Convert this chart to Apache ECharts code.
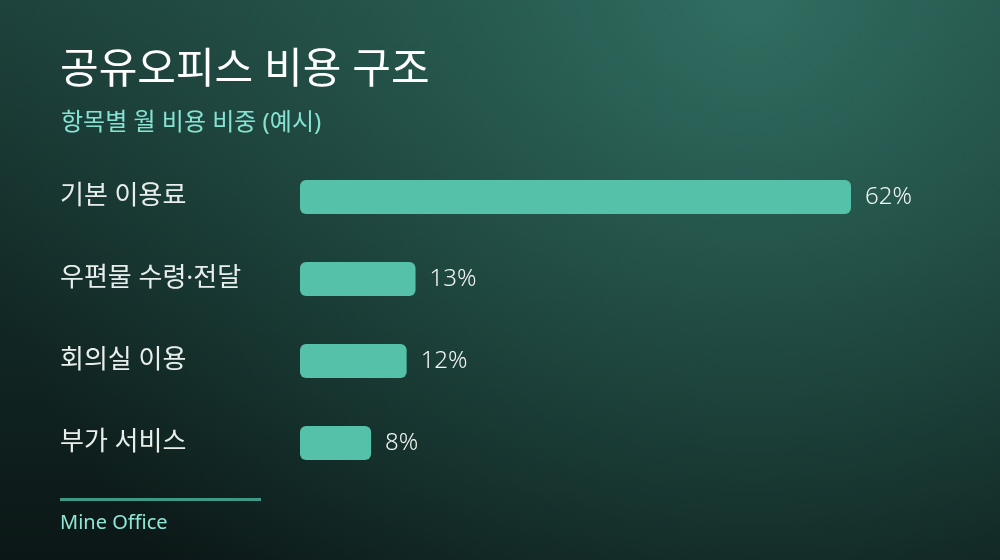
<!DOCTYPE html>
<html>
<head>
<meta charset="utf-8">
<script src="https://cdn.jsdelivr.net/npm/echarts@6/dist/echarts.min.js"></script>
<style>
  html, body { margin: 0; padding: 0; }
  #main { width: 1000px; height: 560px; }
</style>
</head>
<body>
<div id="main"></div>
<script>
let categories = ['기본 이용료', '우편물 수령·전달', '회의실 이용', '부가 서비스']
let shares = [62, 13, 12, 8]

let font = '"Noto Sans", "Noto Sans CJK KR", sans-serif'
let myChart = echarts.init(document.getElementById('main'))

let option = {
    backgroundColor: {
        type: 'linear', x: 0, y: 0, x2: 0, y2: 1,
        colorStops: [
            { offset: 0, color: '#1d403a' },
            { offset: 0.55, color: '#122825' },
            { offset: 1, color: '#0b1716' }
        ]
    },
    title: [
        {
            text: '공유오피스 비용 구조',
            left: 60, top: 50, padding: 0,
            textStyle: { color: '#ffffff', fontSize: 42, fontWeight: 400, fontFamily: font }
        },
        {
            text: '항목별 월 비용 비중 (예시)',
            left: 61, top: 111, padding: 0,
            textStyle: { color: '#86e3d2', fontSize: 24, fontWeight: 400, fontFamily: font }
        },
        {
            text: 'Mine Office',
            left: 60, top: 513, padding: 0,
            textStyle: { color: '#8fe6d6', fontSize: 20, fontWeight: 400, fontFamily: font }
        }
    ],
    graphic: [
        // soft light in the upper right
        {
            type: 'rect', z: -1, silent: true,
            shape: { x: 0, y: 0, width: 1000, height: 560 },
            style: {
                fill: {
                    type: 'radial', x: 0.75, y: 0, r: 1.45,
                    colorStops: [
                        { offset: 0, color: 'rgba(52, 118, 104, 0.85)' },
                        { offset: 0.5, color: 'rgba(45, 105, 92, 0.45)' },
                        { offset: 1, color: 'rgba(40, 95, 85, 0)' }
                    ]
                }
            }
        },
        {
            type: 'rect',
            shape: { x: 60, y: 498, width: 201, height: 3 },
            style: { fill: '#3e9a86' }
        }
    ],
    grid: { left: 300, right: 149, top: 156, bottom: 76, containLabel: false },
    xAxis: {
        type: 'value', min: 0, max: 62,
        show: false
    },
    yAxis: {
        type: 'category',
        data: categories,
        inverse: true,
        axisLine: { show: false },
        axisTick: { show: false },
        axisLabel: {
            align: 'left', margin: 240,
            color: '#e8eeec', fontSize: 26, fontFamily: font
        }
    },
    series: [
        {
            type: 'bar',
            data: shares,
            barWidth: 34,
            itemStyle: { color: '#55c1a9', borderRadius: 6 },
            label: {
                show: true, position: 'right', distance: 14,
                formatter: '{c}%',
                color: '#f2f6f4', fontSize: 24, fontWeight: 300, fontFamily: font
            },
            silent: true
        }
    ]
}

myChart.setOption(option)
</script>
</body>
</html>
